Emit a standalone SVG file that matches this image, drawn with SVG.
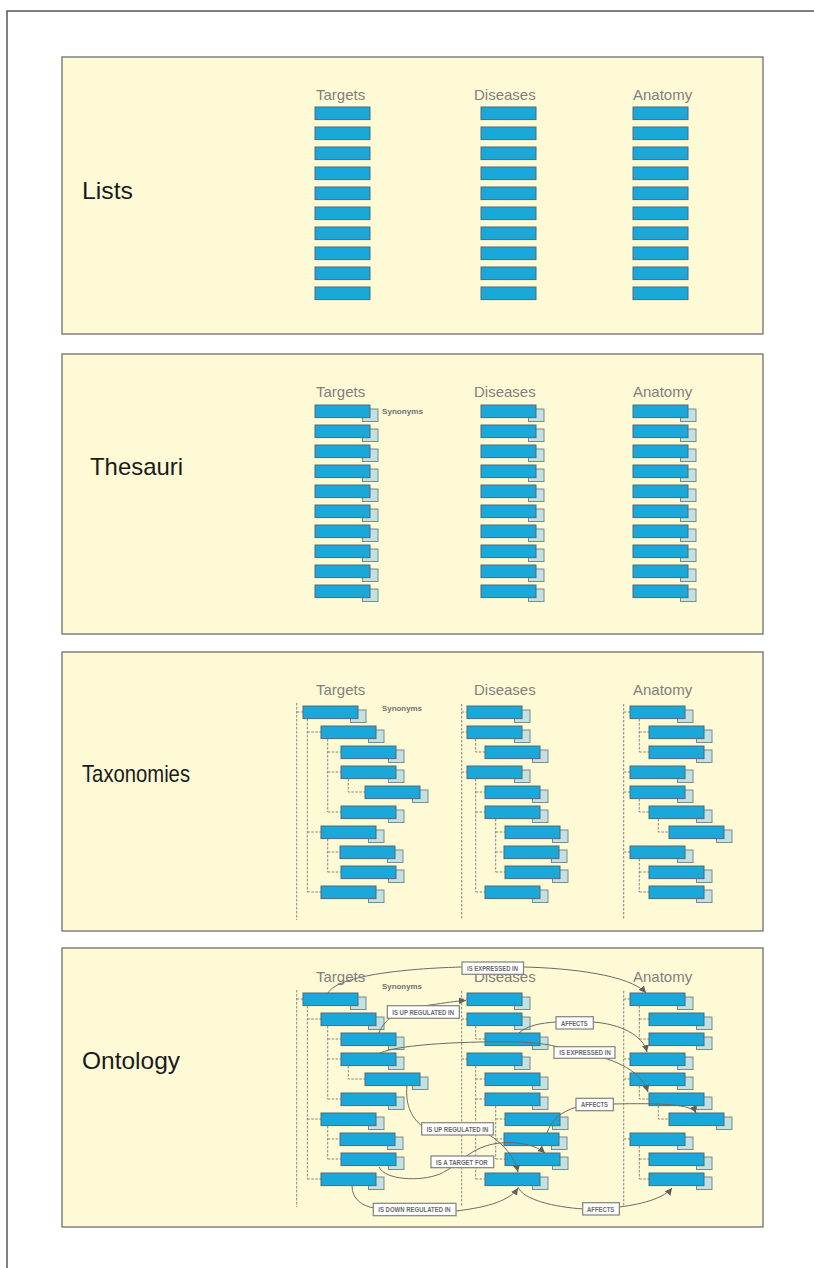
<svg xmlns="http://www.w3.org/2000/svg" xmlns:xlink="http://www.w3.org/1999/xlink" width="814" height="1268" viewBox="0 0 814 1268">
<style>
.panel{fill:#FFFAD6;stroke:#6f6f6f;stroke-width:1.3}
.bx{fill:#1AA8DB;stroke:#4f6b78;stroke-width:1}
.sh{fill:#C3E1E1;stroke:#7d8a8a;stroke-width:1}
.hdr{font-family:"Liberation Sans",Arial,sans-serif;font-size:15px;fill:#7f7f7f}
.ttl{font-family:"Liberation Sans",Arial,sans-serif;font-size:24px;fill:#1a1a1a}
.syn{font-family:"Liberation Sans",Arial,sans-serif;font-weight:bold;font-size:7.5px;fill:#707070}
.tree{fill:none;stroke:#6a6a6a;stroke-width:0.8;stroke-dasharray:2.5 1.5}
.edge{fill:none;stroke:#6a6a6a;stroke-width:1}
.lbl rect{fill:#fff;stroke:#808080;stroke-width:1.2}
.lbl text{font-family:"Liberation Sans",Arial,sans-serif;font-weight:bold;font-size:7px;fill:#6a6a6a}
.frame{fill:none;stroke:#555;stroke-width:1.5}
</style>
<defs>
<g id="bar"><rect class="bx" width="55" height="12.6"/></g>
<g id="node"><rect class="sh" x="47.5" y="4" width="15.5" height="12.5"/><rect class="bx" width="55" height="12.6"/></g>
<marker id="arr" markerUnits="userSpaceOnUse" markerWidth="8" markerHeight="8" refX="7" refY="3.5" orient="auto"><path d="M0,0 L7,3.5 L0,7 z" fill="#5f5f5f"/></marker>
</defs>
<path class="frame" d="M7,1268 V11 H814"/>
<g id="panels">
<rect class="panel" x="62" y="57" width="701" height="277"/>
<rect class="panel" x="62" y="354" width="701" height="280"/>
<rect class="panel" x="62" y="652" width="701" height="279"/>
<rect class="panel" x="62" y="948" width="701" height="279"/>
</g>
<g id="titles">
<text class="ttl" x="82" y="199" textLength="51" lengthAdjust="spacingAndGlyphs">Lists</text>
<text class="ttl" x="90" y="475" textLength="93" lengthAdjust="spacingAndGlyphs">Thesauri</text>
<text class="ttl" x="82" y="782" textLength="108" lengthAdjust="spacingAndGlyphs">Taxonomies</text>
<text class="ttl" x="82" y="1069" textLength="98" lengthAdjust="spacingAndGlyphs">Ontology</text>
</g>
<g id="headers">
<text class="hdr" x="316" y="100">Targets</text><text class="hdr" x="474" y="100">Diseases</text><text class="hdr" x="633" y="100">Anatomy</text>
<text class="hdr" x="316" y="397">Targets</text><text class="hdr" x="474" y="397">Diseases</text><text class="hdr" x="633" y="397">Anatomy</text>
<text class="hdr" x="316" y="695">Targets</text><text class="hdr" x="474" y="695">Diseases</text><text class="hdr" x="633" y="695">Anatomy</text>
<text class="hdr" x="316" y="982">Targets</text><text class="hdr" x="474" y="982">Diseases</text><text class="hdr" x="633" y="982">Anatomy</text>
<text class="syn" x="382" y="414" textLength="41" lengthAdjust="spacingAndGlyphs">Synonyms</text>
<text class="syn" x="382" y="711" textLength="40" lengthAdjust="spacingAndGlyphs">Synonyms</text>
<text class="syn" x="382" y="989" textLength="40" lengthAdjust="spacingAndGlyphs">Synonyms</text>
</g>
<g id="lists">
<g id="l-t0"><use href="#bar" x="315" y="107"/></g><g id="l-t1"><use href="#bar" x="315" y="127"/></g><g id="l-t2"><use href="#bar" x="315" y="147"/></g><g id="l-t3"><use href="#bar" x="315" y="167"/></g><g id="l-t4"><use href="#bar" x="315" y="187"/></g><g id="l-t5"><use href="#bar" x="315" y="207"/></g><g id="l-t6"><use href="#bar" x="315" y="227"/></g><g id="l-t7"><use href="#bar" x="315" y="247"/></g><g id="l-t8"><use href="#bar" x="315" y="267"/></g><g id="l-t9"><use href="#bar" x="315" y="287"/></g>
<g id="l-d0"><use href="#bar" x="481" y="107"/></g><g id="l-d1"><use href="#bar" x="481" y="127"/></g><g id="l-d2"><use href="#bar" x="481" y="147"/></g><g id="l-d3"><use href="#bar" x="481" y="167"/></g><g id="l-d4"><use href="#bar" x="481" y="187"/></g><g id="l-d5"><use href="#bar" x="481" y="207"/></g><g id="l-d6"><use href="#bar" x="481" y="227"/></g><g id="l-d7"><use href="#bar" x="481" y="247"/></g><g id="l-d8"><use href="#bar" x="481" y="267"/></g><g id="l-d9"><use href="#bar" x="481" y="287"/></g>
<g id="l-a0"><use href="#bar" x="633" y="107"/></g><g id="l-a1"><use href="#bar" x="633" y="127"/></g><g id="l-a2"><use href="#bar" x="633" y="147"/></g><g id="l-a3"><use href="#bar" x="633" y="167"/></g><g id="l-a4"><use href="#bar" x="633" y="187"/></g><g id="l-a5"><use href="#bar" x="633" y="207"/></g><g id="l-a6"><use href="#bar" x="633" y="227"/></g><g id="l-a7"><use href="#bar" x="633" y="247"/></g><g id="l-a8"><use href="#bar" x="633" y="267"/></g><g id="l-a9"><use href="#bar" x="633" y="287"/></g>
</g>
<g id="thesauri">
<g id="s-t0"><use href="#node" x="315" y="405"/></g><g id="s-t1"><use href="#node" x="315" y="425"/></g><g id="s-t2"><use href="#node" x="315" y="445"/></g><g id="s-t3"><use href="#node" x="315" y="465"/></g><g id="s-t4"><use href="#node" x="315" y="485"/></g><g id="s-t5"><use href="#node" x="315" y="505"/></g><g id="s-t6"><use href="#node" x="315" y="525"/></g><g id="s-t7"><use href="#node" x="315" y="545"/></g><g id="s-t8"><use href="#node" x="315" y="565"/></g><g id="s-t9"><use href="#node" x="315" y="585"/></g>
<g id="s-d0"><use href="#node" x="481" y="405"/></g><g id="s-d1"><use href="#node" x="481" y="425"/></g><g id="s-d2"><use href="#node" x="481" y="445"/></g><g id="s-d3"><use href="#node" x="481" y="465"/></g><g id="s-d4"><use href="#node" x="481" y="485"/></g><g id="s-d5"><use href="#node" x="481" y="505"/></g><g id="s-d6"><use href="#node" x="481" y="525"/></g><g id="s-d7"><use href="#node" x="481" y="545"/></g><g id="s-d8"><use href="#node" x="481" y="565"/></g><g id="s-d9"><use href="#node" x="481" y="585"/></g>
<g id="s-a0"><use href="#node" x="633" y="405"/></g><g id="s-a1"><use href="#node" x="633" y="425"/></g><g id="s-a2"><use href="#node" x="633" y="445"/></g><g id="s-a3"><use href="#node" x="633" y="465"/></g><g id="s-a4"><use href="#node" x="633" y="485"/></g><g id="s-a5"><use href="#node" x="633" y="505"/></g><g id="s-a6"><use href="#node" x="633" y="525"/></g><g id="s-a7"><use href="#node" x="633" y="545"/></g><g id="s-a8"><use href="#node" x="633" y="565"/></g><g id="s-a9"><use href="#node" x="633" y="585"/></g>
</g>
<g id="tree-connectors">
<path id="tree3" class="tree" d="M296.7,703 V920 M296.7,712 H303 M307.3,719 V892 M307.3,732 H321 M307.3,832 H321 M307.3,892 H321 M327.7,739 V812 M327.7,752 H341 M327.7,772 H341 M327.7,812 H341 M348.3,779 V792 H365 M327.7,839 V872 M327.7,852 H341 M327.7,872 H341 M461.7,704 V920 M461.7,712 H467 M461.7,732 H467 M461.7,772 H467 M475.7,739 V752 H485 M475.7,779 V892 M475.7,792 H485 M475.7,812 H485 M475.7,892 H485 M495.7,819 V872 M495.7,832 H505 M495.7,852 H505 M495.7,872 H505 M623.7,704 V920 M623.7,712 H630 M623.7,772 H630 M623.7,792 H630 M623.7,852 H630 M639.3,719 V752 M639.3,732 H649 M639.3,752 H649 M639.3,799 V812 H649 M658.3,819 V832 H669 M639.3,859 V892 M639.3,872 H649 M639.3,892 H649"/>
<use href="#tree3" y="287"/>
</g>
<g id="taxonomies">
<g id="x-t0"><use href="#node" x="303" y="706"/></g><g id="x-t1"><use href="#node" x="321" y="726"/></g><g id="x-t2"><use href="#node" x="341" y="746"/></g><g id="x-t3"><use href="#node" x="341" y="766"/></g><g id="x-t4"><use href="#node" x="365" y="786"/></g><g id="x-t5"><use href="#node" x="341" y="806"/></g><g id="x-t6"><use href="#node" x="321" y="826"/></g><g id="x-t7"><use href="#node" x="340" y="846"/></g><g id="x-t8"><use href="#node" x="341" y="866"/></g><g id="x-t9"><use href="#node" x="321" y="886"/></g>
<g id="x-d0"><use href="#node" x="467" y="706"/></g><g id="x-d1"><use href="#node" x="467" y="726"/></g><g id="x-d2"><use href="#node" x="485" y="746"/></g><g id="x-d3"><use href="#node" x="467" y="766"/></g><g id="x-d4"><use href="#node" x="485" y="786"/></g><g id="x-d5"><use href="#node" x="485" y="806"/></g><g id="x-d6"><use href="#node" x="505" y="826"/></g><g id="x-d7"><use href="#node" x="504" y="846"/></g><g id="x-d8"><use href="#node" x="505" y="866"/></g><g id="x-d9"><use href="#node" x="485" y="886"/></g>
<g id="x-a0"><use href="#node" x="630" y="706"/></g><g id="x-a1"><use href="#node" x="649" y="726"/></g><g id="x-a2"><use href="#node" x="649" y="746"/></g><g id="x-a3"><use href="#node" x="630" y="766"/></g><g id="x-a4"><use href="#node" x="630" y="786"/></g><g id="x-a5"><use href="#node" x="649" y="806"/></g><g id="x-a6"><use href="#node" x="669" y="826"/></g><g id="x-a7"><use href="#node" x="630" y="846"/></g><g id="x-a8"><use href="#node" x="649" y="866"/></g><g id="x-a9"><use href="#node" x="649" y="886"/></g>
</g>
<g id="ontology">
<g id="o-t0"><use href="#node" x="303" y="993"/></g><g id="o-t1"><use href="#node" x="321" y="1013"/></g><g id="o-t2"><use href="#node" x="341" y="1033"/></g><g id="o-t3"><use href="#node" x="341" y="1053"/></g><g id="o-t4"><use href="#node" x="365" y="1073"/></g><g id="o-t5"><use href="#node" x="341" y="1093"/></g><g id="o-t6"><use href="#node" x="321" y="1113"/></g><g id="o-t7"><use href="#node" x="340" y="1133"/></g><g id="o-t8"><use href="#node" x="341" y="1153"/></g><g id="o-t9"><use href="#node" x="321" y="1173"/></g>
<g id="o-d0"><use href="#node" x="467" y="993"/></g><g id="o-d1"><use href="#node" x="467" y="1013"/></g><g id="o-d2"><use href="#node" x="485" y="1033"/></g><g id="o-d3"><use href="#node" x="467" y="1053"/></g><g id="o-d4"><use href="#node" x="485" y="1073"/></g><g id="o-d5"><use href="#node" x="485" y="1093"/></g><g id="o-d6"><use href="#node" x="505" y="1113"/></g><g id="o-d7"><use href="#node" x="504" y="1133"/></g><g id="o-d8"><use href="#node" x="505" y="1153"/></g><g id="o-d9"><use href="#node" x="485" y="1173"/></g>
<g id="o-a0"><use href="#node" x="630" y="993"/></g><g id="o-a1"><use href="#node" x="649" y="1013"/></g><g id="o-a2"><use href="#node" x="649" y="1033"/></g><g id="o-a3"><use href="#node" x="630" y="1053"/></g><g id="o-a4"><use href="#node" x="630" y="1073"/></g><g id="o-a5"><use href="#node" x="649" y="1093"/></g><g id="o-a6"><use href="#node" x="669" y="1113"/></g><g id="o-a7"><use href="#node" x="630" y="1133"/></g><g id="o-a8"><use href="#node" x="649" y="1153"/></g><g id="o-a9"><use href="#node" x="649" y="1173"/></g>
</g>
<g id="connectors">
<path class="edge" marker-end="url(#arr)" d="M328,993 C336,978 390,969 462,967 L523,967 C570,968 630,975 646,993"/>
<path class="edge" marker-end="url(#arr)" d="M379,1033 C384,1020 395,1010 430,1005 C445,1003 455,1001 466,1000.5"/>
<path class="edge" marker-end="url(#arr)" d="M519,1033 C526,1026 540,1023 556,1022 L593,1022 C620,1024 643,1035 647,1052"/>
<path class="edge" marker-end="url(#arr)" d="M380,1053 C400,1044 470,1041 520,1042 C545,1043 560,1047 580,1052 C610,1058 640,1068 648,1092"/>
<path class="edge" marker-end="url(#arr)" d="M547,1133 C551,1120 562,1111 577,1107 L613,1104 C660,1103 692,1104 696,1113"/>
<path class="edge" marker-end="url(#arr)" d="M407,1086 C405,1105 412,1120 425,1128 L488,1134 C505,1145 515,1158 518,1172"/>
<path class="edge" marker-end="url(#arr)" d="M379,1167 C385,1180 420,1182 440,1174 C460,1165 470,1146 500,1143 C520,1141 537,1146 545,1153"/>
<path class="edge" marker-end="url(#arr)" d="M352,1186 C352,1199 362,1206 374,1208 L456,1211 C490,1207 510,1200 518,1188"/>
<path class="edge" marker-end="url(#arr)" d="M518,1187 C523,1200 555,1207 583,1209 L619,1207 C645,1204 665,1197 672,1188"/>
<g class="lbl">
<rect x="462" y="962" width="61.5" height="12.3"/><text x="467" y="970.8" textLength="51" lengthAdjust="spacingAndGlyphs">IS EXPRESSED IN</text>
<rect x="387.3" y="1005.7" width="72" height="12.6"/><text x="392.3" y="1014.6" textLength="61.7" lengthAdjust="spacingAndGlyphs">IS UP REGULATED IN</text>
<rect x="556" y="1016.7" width="37.3" height="12.3"/><text x="561" y="1025.5" textLength="26.7" lengthAdjust="spacingAndGlyphs">AFFECTS</text>
<rect x="554" y="1046.7" width="61" height="11.6"/><text x="559.3" y="1055.2" textLength="51.4" lengthAdjust="spacingAndGlyphs">IS EXPRESSED IN</text>
<rect x="576" y="1098.3" width="37.3" height="12.4"/><text x="581" y="1107.1" textLength="27" lengthAdjust="spacingAndGlyphs">AFFECTS</text>
<rect x="421.7" y="1122.7" width="71.6" height="12.3"/><text x="426.7" y="1131.5" textLength="61.6" lengthAdjust="spacingAndGlyphs">IS UP REGULATED IN</text>
<rect x="431" y="1156" width="62.7" height="11.7"/><text x="436" y="1164.5" textLength="51.7" lengthAdjust="spacingAndGlyphs">IS A TARGET FOR</text>
<rect x="373.3" y="1203.3" width="82.7" height="12.4"/><text x="378.3" y="1212.1" textLength="72.4" lengthAdjust="spacingAndGlyphs">IS DOWN REGULATED IN</text>
<rect x="582.7" y="1202.7" width="36.6" height="12.3"/><text x="587" y="1211.5" textLength="27.3" lengthAdjust="spacingAndGlyphs">AFFECTS</text>
</g>
</g>
</svg>
